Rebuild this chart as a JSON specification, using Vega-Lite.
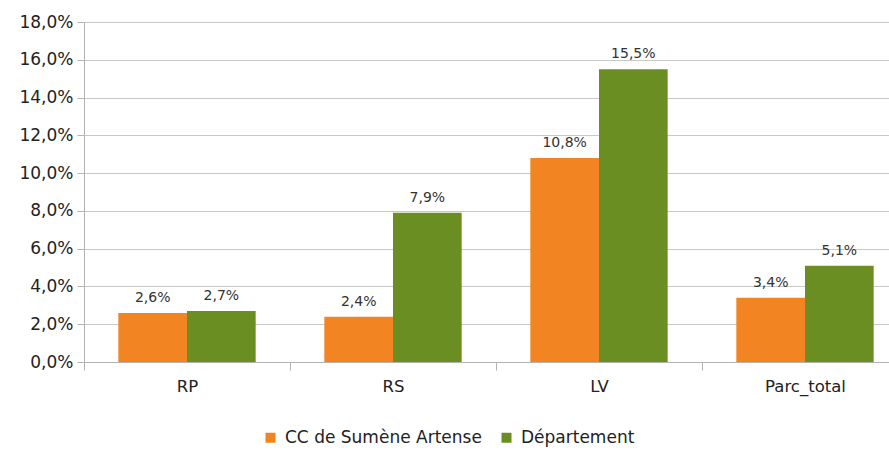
{
  "$schema": "https://vega.github.io/schema/vega-lite/v6.json",
  "width": 824,
  "height": 340,
  "autosize": {"type": "none"},
  "padding": {"left": 84, "top": 22, "right": 0, "bottom": 88},
  "background": "white",
  "config": {
    "locale": {"number": {"decimal": ",", "thousands": " ", "grouping": [3], "currency": ["", " €"]}},
    "font": "DejaVu Sans",
    "view": {"stroke": null}
  },
  "data": {
    "values": [
      {"cat": "RP", "serie": "CC de Sumène Artense", "v": 0.026},
      {"cat": "RP", "serie": "Département", "v": 0.027},
      {"cat": "RS", "serie": "CC de Sumène Artense", "v": 0.024},
      {"cat": "RS", "serie": "Département", "v": 0.079},
      {"cat": "LV", "serie": "CC de Sumène Artense", "v": 0.108},
      {"cat": "LV", "serie": "Département", "v": 0.155},
      {"cat": "Parc_total", "serie": "CC de Sumène Artense", "v": 0.034},
      {"cat": "Parc_total", "serie": "Département", "v": 0.051}
    ]
  },
  "encoding": {
    "x": {
      "field": "cat", "type": "nominal", "sort": ["RP", "RS", "LV", "Parc_total"],
      "scale": {"paddingInner": 0, "paddingOuter": 0},
      "axis": {"title": null, "labelAngle": 0, "labelFontSize": 16.5, "labelColor": "#222", "labelPadding": 8,
               "tickBand": "extent", "tickSize": 8, "tickColor": "#b3b3b3", "domainColor": "#b3b3b3", "grid": false}
    },
    "xOffset": {"field": "serie", "type": "nominal", "scale": {"paddingOuter": 0.5, "paddingInner": 0}},
    "y": {
      "field": "v", "type": "quantitative",
      "scale": {"domain": [0, 0.18]},
      "axis": {"title": null, "format": ".1%", "values": [0, 0.02, 0.04, 0.06, 0.08, 0.1, 0.12, 0.14, 0.16, 0.18],
               "labelFontSize": 17, "labelColor": "#222", "tickSize": 7, "tickColor": "#b3b3b3",
               "domainColor": "#b3b3b3", "gridColor": "#c8c8c8", "labelPadding": 4}
    }
  },
  "layer": [
    {
      "mark": {"type": "bar"},
      "encoding": {
        "color": {
          "field": "serie", "type": "nominal",
          "scale": {"domain": ["CC de Sumène Artense", "Département"], "range": ["#F28522", "#6B8E23"]},
          "legend": {"title": null, "orient": "none", "legendX": 178, "legendY": 407, "direction": "horizontal",
                     "labelFontSize": 17, "labelLimit": 400, "labelColor": "#222", "symbolType": "square", "symbolSize": 100,
                     "columnPadding": 16, "symbolStrokeWidth": 0, "labelOffset": 6}
        }
      }
    },
    {
      "mark": {"type": "text", "dy": -15, "fontSize": 14, "color": "#333"},
      "encoding": {
        "text": {"field": "v", "type": "quantitative", "format": ".1%"}
      }
    }
  ]
}
